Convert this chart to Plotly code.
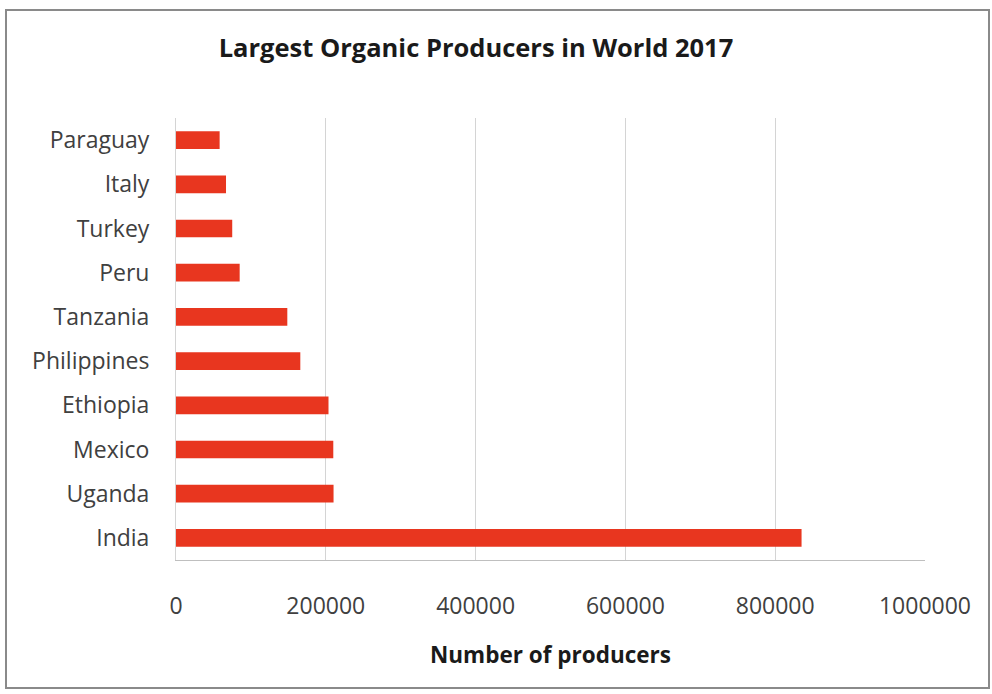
import plotly.graph_objects as go

countries = ["India", "Uganda", "Mexico", "Ethiopia", "Philippines", "Tanzania", "Peru", "Turkey", "Italy", "Paraguay"]
producers = [835200, 210352, 210000, 203602, 165974, 148610, 85000, 75067, 66773, 58258]
x_ticks = [0, 200000, 400000, 600000, 800000, 1000000]
x_tick_labels = ["0", "200000", "400000", "600000", "800000", "1000000"]

W, H = 992, 694
L, R, T, B = 176, 67, 118, 134
pw, ph = W - L - R, H - T - B

FONT = "Open Sans"

fig = go.Figure(go.Bar(
    x=producers, y=countries, orientation="h",
    marker=dict(color="#e8361f", line=dict(width=0)),
))

fig.update_layout(
    width=W, height=H,
    margin=dict(l=L, r=R, t=T, b=B),
    paper_bgcolor="white", plot_bgcolor="white",
    bargap=0.6,
    showlegend=False,
    font=dict(family=FONT, color="#404040", size=23),
    title=dict(
        text="<b>Largest Organic Producers in World 2017</b>",
        font=dict(family=FONT, size=25.5, color="#1a1a1a"),
        x=(476 - L) / pw, xref="paper", xanchor="center",
        y=1 - 48 / H, yref="container", yanchor="middle",
    ),
    xaxis=dict(
        range=[0, 1000000], tickvals=x_ticks, ticktext=x_tick_labels,
        showgrid=True, gridcolor="#d4d4d4", gridwidth=1,
        zeroline=False, showline=True, linecolor="#bfbfbf", linewidth=1,
        ticks="", ticklabelstandoff=25,
        tickfont=dict(family=FONT, size=23, color="#404040"),
        title=dict(text="<b>Number of producers</b>", standoff=27,
                   font=dict(family=FONT, size=22.5, color="#1a1a1a")),
    ),
    yaxis=dict(
        categoryorder="array", categoryarray=countries,
        range=[-0.5, len(countries) - 0.5],
        showgrid=False, zeroline=False,
        showline=True, linecolor="#d4d4d4", linewidth=1,
        ticks="", ticklabelstandoff=21,
        tickfont=dict(family=FONT, size=23, color="#404040"),
    ),
    shapes=[dict(
        type="rect", xref="paper", yref="paper",
        x0=(6 - L) / pw, x1=(989 - L) / pw,
        y0=(H - B - 688) / ph, y1=(H - B - 10) / ph,
        line=dict(color="#8a8a8a", width=2), fillcolor="rgba(0,0,0,0)",
        layer="below",
    )],
)

fig.write_html("out.html")
